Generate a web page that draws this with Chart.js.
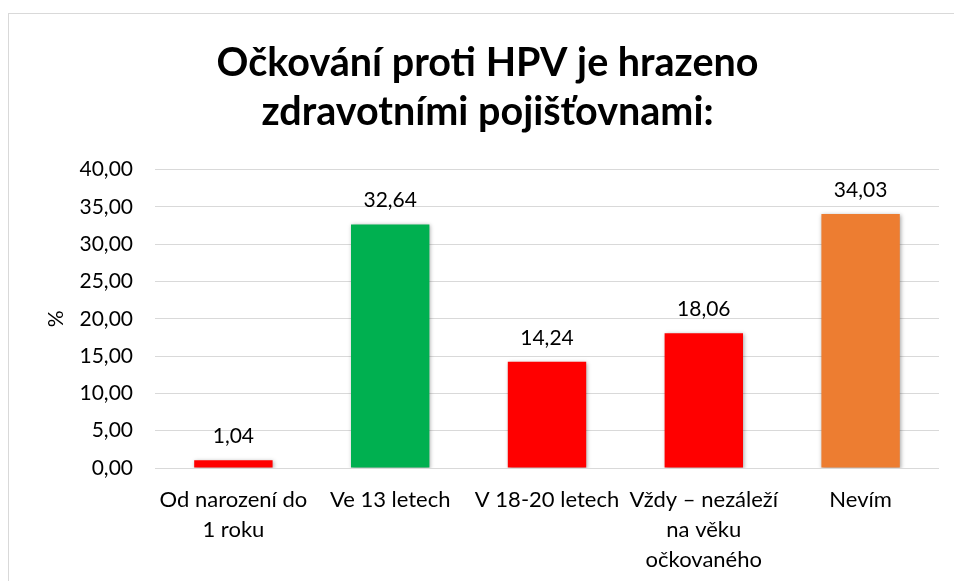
<!DOCTYPE html>
<html>
<head>
<meta charset="utf-8">
<script src="https://cdn.jsdelivr.net/npm/chart.js@4.4.0/dist/chart.umd.min.js"></script>
<style>
  html, body { margin: 0; padding: 0; background: #fff; }
  #wrap { position: relative; width: 954px; height: 581px; overflow: hidden; }
  #frame { position: absolute; left: 8px; top: 13px; width: 980px; height: 620px; border: 1px solid #d9d9d9; }
  canvas { position: absolute; left: 0; top: 0; }
</style>
</head>
<body>
<div id="wrap">
  <div id="frame"></div>
  <canvas id="chart" width="954" height="581"></canvas>
</div>
<script>
// Data
const categories = [
  ["Od narození do", "1 roku"],
  "Ve 13 letech",
  "V 18-20 letech",
  ["Vždy – nezáleží", "na věku", "očkovaného"],
  "Nevím"
];
const values = [1.04, 32.64, 14.24, 18.06, 34.03];
const barColors = ["#FF0000", "#00B050", "#FF0000", "#FF0000", "#ED7D31"];
const titleLines = ["Očkování proti HPV je hrazeno", "zdravotními pojišťovnami:"];

const FONT = "Lato, 'Open Sans', sans-serif";
const fmt = v => Number(v).toFixed(2).replace(".", ",");

// stin pod sloupci
const barShadow = {
  id: "barShadow",
  beforeDatasetsDraw(chart) {
    const ctx = chart.ctx;
    ctx.save();
    ctx.shadowColor = "rgba(0,0,0,0.35)";
    ctx.shadowBlur = 4;
    ctx.shadowOffsetX = 1;
    ctx.shadowOffsetY = 1;
  },
  afterDatasetsDraw(chart) {
    chart.ctx.restore();
  }
};

// popisky hodnot nad sloupci
const valueLabels = {
  id: "valueLabels",
  afterDatasetsDraw(chart) {
    const ctx = chart.ctx;
    const meta = chart.getDatasetMeta(0);
    ctx.save();
    ctx.font = "21px " + FONT;
    ctx.fillStyle = "#000";
    ctx.textAlign = "center";
    ctx.textBaseline = "middle";
    meta.data.forEach((bar, i) => {
      ctx.fillText(fmt(values[i]), bar.x, bar.y - 24);
    });
    ctx.restore();
  }
};

new Chart(document.getElementById("chart"), {
  type: "bar",
  data: {
    labels: categories,
    datasets: [{
      data: values,
      backgroundColor: barColors,
      borderWidth: 0,
      barPercentage: 0.5,
      categoryPercentage: 1
    }]
  },
  options: {
    responsive: false,
    animation: false,
    layout: { padding: { left: 36, right: 15, top: 0, bottom: 0 } },
    plugins: {
      legend: { display: false },
      tooltip: { enabled: false },
      title: {
        display: true,
        text: titleLines,
        color: "#000",
        font: { family: FONT, size: 39.5, weight: "bold", lineHeight: 1.26 },
        padding: { top: 38, bottom: 32 }
      }
    },
    scales: {
      x: {
        grid: { display: false },
        border: { display: false },
        ticks: {
          color: "#000",
          font: { family: FONT, size: 22, lineHeight: 1.36 },
          padding: 9,
          maxRotation: 0,
          autoSkip: false
        },
        afterFit(scale) { scale.height = 113; }
      },
      y: {
        min: 0,
        max: 40,
        ticks: {
          stepSize: 5,
          color: "#000",
          font: { family: FONT, size: 21 },
          padding: 22,
          callback: v => fmt(v)
        },
        grid: { color: "#d9d9d9", lineWidth: 1, drawTicks: false },
        border: { display: false },
        title: {
          display: true,
          text: "%",
          color: "#000",
          font: { family: FONT, size: 21 },
          padding: { top: 8, bottom: 0 }
        },
        afterFit(scale) { scale.width = 119; }
      }
    }
  },
  plugins: [barShadow, valueLabels]
});
</script>
</body>
</html>
